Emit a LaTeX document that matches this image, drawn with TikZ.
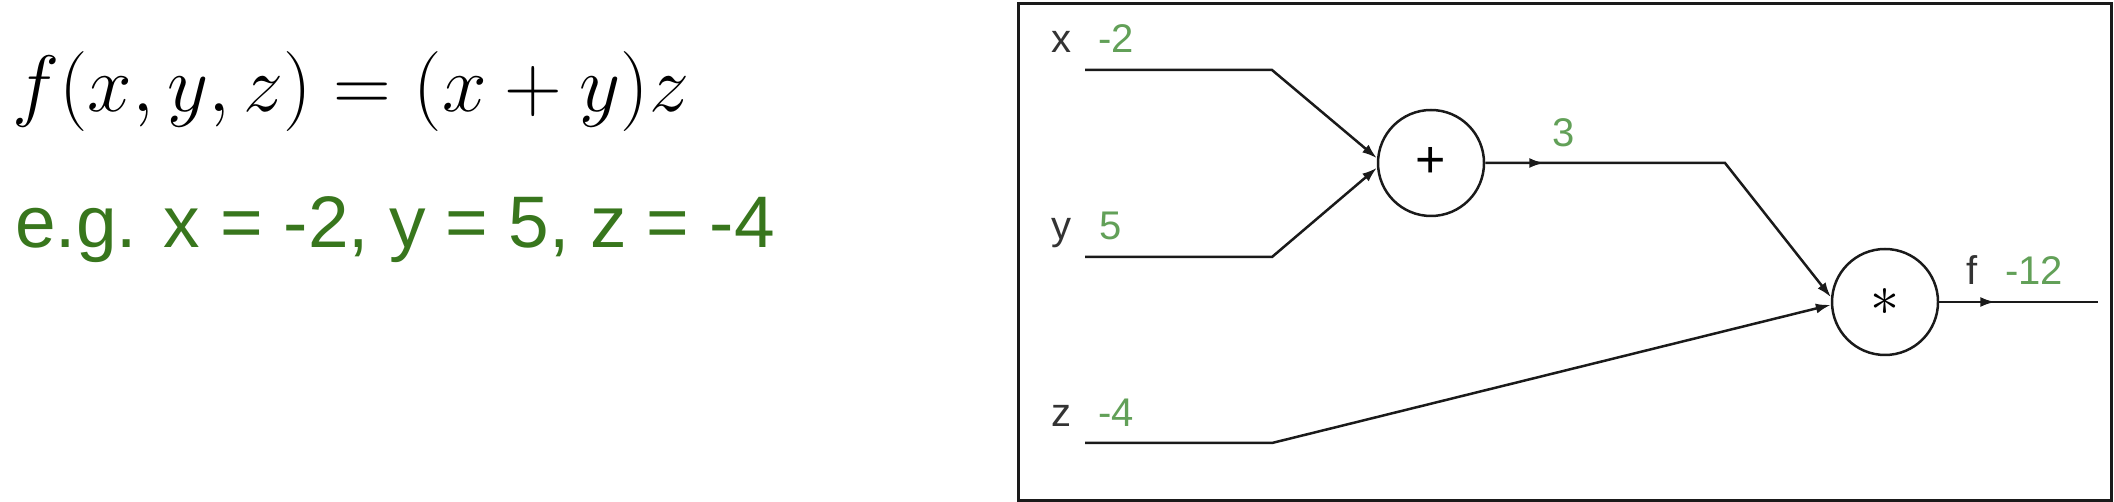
\RequirePackage{fix-cm}
\documentclass[tikz,border=0pt]{standalone}
\usepackage{amsmath}
\usepackage{fontspec}
\newfontfamily\labelfont{Liberation Sans}
\usepackage{xcolor}
\usetikzlibrary{positioning,calc,arrows.meta,decorations.markings}
\definecolor{egreen}{HTML}{38761D}
\definecolor{valgreen}{RGB}{98,160,88}
\definecolor{namegray}{HTML}{333333}
\definecolor{wirecol}{HTML}{1A1A1A}

\begin{document}
\begin{tikzpicture}[x=1pt,y=1pt,
		wire/.style={line width=2.5pt,draw=wirecol},
		arr/.style={wire,-{Latex[length=15pt,width=10pt]}},
		midarr/.style={decoration={markings,mark=at position #1 with {\arrow{Latex[length=15pt,width=10pt]}}},postaction={decorate}},
		opnode/.style={circle,draw=wirecol,line width=2.5pt,minimum size=106pt,inner sep=0pt,font=\labelfont\fontsize{52}{52}\selectfont},
		varname/.style={anchor=base,inner sep=0pt,text=namegray,font=\labelfont\fontsize{40}{40}\selectfont},
		varval/.style={varname,text=valgreen}]
		\useasboundingbox (0,0) rectangle (2114,502);
		\node[anchor=base west,inner sep=0pt,font=\fontsize{80}{86}\selectfont] (formula) at (12,390) {$f(x,y,z) = (x+y)z$};
		\node[anchor=base west,inner sep=0pt,text=egreen,font=\labelfont\fontsize{73}{80}\selectfont] (example) at (15,254) {e.g. x = -2, y = 5, z = -4};
		
		\draw[line width=3pt,draw=wirecol] (1018,1.5) rectangle (2111,498);
		
		\node[opnode] (plus) at (1431,339) {+};
		\node[opnode,font=\fontsize{58}{58}\selectfont] (mul) at (1885,200) {$\ast$};
		
		\node[varname] (xname) at (1061,449) {x};
		\node[varval] (xval) at (1116,449) {-2};
		\node[varname] (yname) at (1061,262) {y};
		\node[varval] (yval) at (1111,262) {5};
		\node[varname] (zname) at (1061,75) {z};
		\node[varval] (zval) at (1116,75) {-4};
		\node[varval] (sumval) at (1564,355) {3};
		\node[varname] (fname) at (1972,217) {f};
		\node[varval] (fval) at (2034,217) {-12};
		
		\coordinate (xstart) at (1085,432);
		\coordinate (xbend) at (1272,432);
		\coordinate (ystart) at (1085,245);
		\coordinate (ybend) at (1272,245);
		\coordinate (zstart) at (1085,59);
		\coordinate (zbend) at (1272,59);
		\coordinate (sumbend) at (1725,339);
		\coordinate (outend) at (2098,200);
		
		\draw[arr] (xstart)--(xbend)--(plus.175);
		\draw[arr] (ystart)--(ybend)--(plus.185);
		\draw[arr,midarr=59pt] (plus.east)--(sumbend)--(mul.175);
		\draw[arr] (zstart)--(zbend)--(mul.183);
		\draw[wire,midarr=56pt] (mul.east)--(outend);
	\end{tikzpicture}
\end{document}
